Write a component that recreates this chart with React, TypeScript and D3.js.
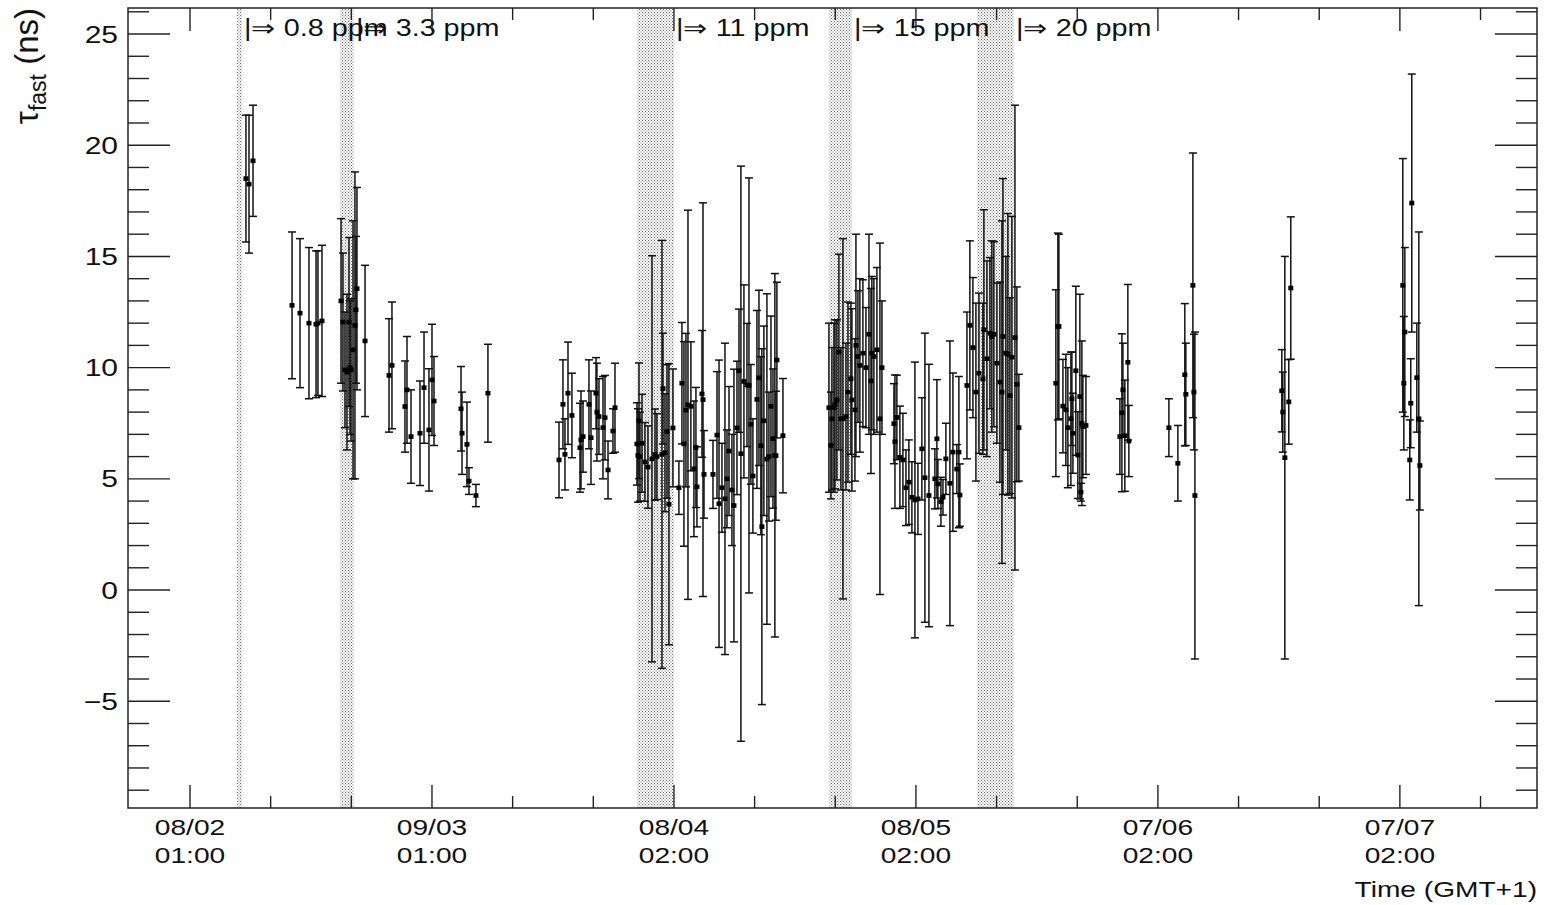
import React from 'react';
import * as d3 from 'd3';

// ---------- data ----------
// x: hours after the first labelled tick (08/02 01:00), y: tau_fast (ns), symmetric error (ns)
const hours = [
  5.55, 5.85, 6.25,
  10.12, 10.91, 11.8, 12.5, 12.69, 13.09,
  14.98, 15.17, 15.37, 15.57, 15.77, 15.87, 15.97, 16.17, 16.36, 16.46, 16.56, 17.36,
  19.74, 20.03,
  21.32, 21.52, 21.92, 22.81, 23.21, 23.7, 24.0, 24.2,
  26.88, 26.98, 27.47, 27.67, 28.36,
  29.55,
  36.6, 36.99, 37.19, 37.49, 37.88, 38.68, 38.78, 38.98, 39.57, 39.77, 40.27, 40.36, 40.56, 40.96, 41.16, 41.46, 41.95, 42.15,
  44.33, 44.43, 44.53, 44.63, 44.83, 45.12, 45.42, 45.82, 46.12, 46.31, 46.81, 46.91, 47.11, 47.31, 47.5, 47.9,
  48.49, 48.79, 48.99, 49.19, 49.39, 49.68, 49.98, 50.18, 50.28, 50.78, 50.88, 50.98, 51.87, 52.27, 52.47, 52.76,
  53.06, 53.26, 53.46, 53.75, 53.95, 54.25, 54.45, 54.64, 54.94, 55.24, 55.44, 55.63, 55.83, 56.23, 56.43, 56.62,
  56.72, 56.92, 57.22, 57.42, 57.62, 57.82, 58.01, 58.11, 58.21, 58.81,
  63.37, 63.57, 63.67, 63.87, 63.97, 64.16, 64.36, 64.56, 64.76, 65.06, 65.26, 65.55, 65.65, 65.95, 66.05, 66.25,
  66.44, 66.74, 67.04, 67.34, 67.54, 67.63, 67.83, 68.13, 68.43, 68.63,
  69.82, 69.92, 70.11, 70.41, 70.71, 71.01, 71.3, 71.6, 71.9, 72.2, 72.59, 72.89, 73.29, 73.88, 74.08, 74.18,
  74.48, 74.68, 74.97, 75.37, 75.67, 76.06, 76.26, 76.36,
  77.06, 77.35, 77.65, 77.95, 78.25, 78.64, 78.74, 79.04, 79.34, 79.53, 79.73, 80.03, 80.33, 80.53, 80.63, 80.92,
  81.12, 81.32, 81.52, 81.82, 82.01, 82.21,
  85.88, 86.08, 86.18, 86.58, 86.87, 87.07, 87.37, 87.47, 87.57, 87.86, 88.06, 88.26, 88.36, 88.46, 88.56, 88.86,
  92.23, 92.43, 92.53, 92.72, 93.02, 93.12,
  97.09, 97.98, 98.67, 98.77, 99.47, 99.57, 99.67,
  108.29, 108.39, 108.59, 108.98, 109.18,
  120.29, 120.39, 120.49, 120.98, 121.08, 121.18, 121.68, 121.88, 121.98,
];
const tau = [
  18.5, 18.25, 19.3,
  12.8, 12.45, 12.0, 11.95, 12.0, 12.1,
  13.0, 12.05, 9.9, 9.8, 12.05, 10.0, 9.9, 10.8, 11.9, 12.6, 13.55, 11.2,
  9.65, 10.1,
  8.25, 9.0, 6.9, 7.05, 9.1, 7.2, 9.45, 8.5,
  8.15, 7.05, 6.55, 4.9, 4.25,
  8.85,
  5.85, 8.35, 6.1, 8.85, 7.85, 6.4, 6.75, 6.9, 8.35, 6.85, 8.85, 8.0, 7.8, 7.3, 7.75, 5.4, 7.15, 8.2,
  6.57, 6.05, 7.61, 6.0, 6.6, 5.76, 5.53, 5.9, 6.09, 6.0, 6.1, 9.06, 6.17, 7.13, 3.86, 7.29,
  4.6, 9.3, 6.57, 8.09, 8.33, 8.26, 5.45, 6.41, 4.64, 8.82, 8.56, 5.2, 5.2, 6.97, 3.88, 4.6,
  4.1, 5.0, 6.25, 4.5, 3.8, 7.29, 9.86, 6.13, 9.38, 9.22, 9.2, 7.45, 5.13, 8.57, 9.54, 6.49,
  2.85, 7.61, 5.89, 6.0, 8.26, 6.81, 6.06, 6.04, 10.34, 6.94,
  8.2, 6.5, 7.7, 8.2, 8.35, 8.55, 10.7, 7.7, 7.7, 7.8, 8.9, 9.5, 8.55, 8.1, 11.0, 10.5,
  10.1, 10.65, 10.0, 11.5, 9.4, 10.65, 10.5, 10.8, 7.7, 10.0,
  7.48, 6.67, 7.76, 5.97, 5.85, 4.6, 4.85, 4.17, 4.05, 4.1, 6.35, 5.05, 4.25, 5.0, 6.8, 4.77,
  3.97, 4.17, 5.9, 4.8, 6.2, 5.44, 6.2, 4.27,
  9.2, 11.9, 10.9, 8.9, 9.75, 9.5, 11.7, 10.4, 11.55, 11.4, 11.5, 10.2, 9.35, 8.9, 11.4, 10.65,
  10.6, 8.74, 10.47, 11.35, 9.25, 7.3,
  9.3, 11.85, 11.85, 8.27, 8.1, 7.3, 7.7, 8.6, 7.05, 9.86, 6.07, 8.7, 4.4, 7.5, 7.35, 7.4,
  6.9, 7.97, 9.0, 6.94, 10.24, 6.7,
  7.3, 5.7, 9.68, 8.8, 13.7, 8.9, 4.25,
  8.96, 8.0, 5.95, 8.46, 13.58,
  13.7, 9.3, 11.6, 5.85, 8.4, 17.4, 9.55, 7.7, 5.6,
];
const tauErr = [
  2.85, 3.1, 2.5,
  3.3, 3.35, 3.4, 3.3, 3.25, 3.4,
  3.7, 3.1, 2.6, 3.5, 3.8, 3.0, 3.2, 5.8, 6.9, 3.3, 4.55, 3.4,
  2.55, 2.85,
  2.05, 2.4, 2.1, 2.35, 2.5, 2.75, 2.5, 2.0,
  1.9, 1.85, 1.9, 0.6, 0.5,
  2.2,
  1.7, 2.0, 1.6, 2.3, 1.9, 2.0, 2.2, 1.6, 2.0, 2.1, 1.6, 2.2, 1.7, 2.3, 1.9, 1.3, 1.0, 2.0,
  1.85, 2.1, 2.6, 2.0, 2.2, 1.77, 1.85, 9.13, 2.05, 1.93, 9.62, 2.49, 2.65, 3.0, 6.32, 2.65,
  1.2, 2.73, 4.6, 3.45, 8.75, 2.9, 3.05, 2.7, 1.8, 2.85, 8.85, 1.97, 1.53, 2.85, 6.46, 2.0,
  7.0, 2.2, 2.9, 2.5, 6.13, 3.0, 2.77, 12.93, 4.34, 2.77, 9.33, 2.69, 2.57, 4.0, 3.94, 4.0,
  8.0, 4.26, 7.43, 2.9, 4.06, 3.13, 8.17, 2.9, 3.5, 2.57,
  3.8, 2.4, 3.2, 3.8, 3.8, 3.6, 4.4, 3.2, 8.1, 3.3, 4.05, 3.4, 4.1, 3.2, 5.0, 2.96,
  3.9, 3.3, 2.7, 4.5, 4.16, 3.45, 3.5, 3.7, 7.9, 3.0,
  1.8, 3.0, 1.9, 2.3, 2.1, 1.7, 1.9, 1.6, 6.2, 1.6, 2.3, 6.5, 5.9, 1.35, 2.66, 1.1,
  1.1, 0.8, 1.6, 6.4, 3.56, 1.1, 3.4, 1.4,
  3.3, 3.8, 3.15, 4.0, 3.6, 3.4, 5.4, 4.4, 3.4, 4.3, 4.16, 3.6, 4.5, 7.7, 7.1, 4.35,
  6.33, 4.4, 6.33, 10.45, 4.38, 2.4,
  4.2, 4.2, 4.15, 2.1, 2.5, 2.7, 3.0, 2.1, 1.8, 3.8, 1.95, 4.6, 0.4, 3.7, 2.3, 2.2,
  1.7, 3.55, 2.1, 2.5, 3.5, 1.6,
  1.3, 1.7, 3.2, 2.3, 5.95, 2.6, 7.35,
  1.85, 1.8, 9.05, 1.9, 3.2,
  5.7, 3.0, 3.8, 1.8, 2.0, 5.8, 2.45, 8.4, 2.0,
];

// axis ticks
const xMajorTicks = [0, 24, 48, 72, 96, 120];
const xMinorStep = 8;
const xTickDates = ['08/02', '09/03', '08/04', '08/05', '07/06', '07/07'];
const xTickTimes = ['01:00', '01:00', '02:00', '02:00', '02:00', '02:00'];
const yMajorTicks = [-5, 0, 5, 10, 15, 20, 25];

// concentration change periods (hours)
const regionStarts = [4.66, 14.88, 44.33, 63.37, 78.05];
const regionEnds = [5.16, 16.26, 48.0, 65.65, 81.72];
const ppmLabels = ['0.8', '3.3', '11', '15', '20'];

const xDomain = [-6.15, 133.6];
const yDomain = [-9.8, 26.17];

// ---------- layout ----------
const W = 1547;
const H = 905;
const L = 128, R = 1537, T = 8, B = 808;
const SX = 1.25; // horizontal text stretch of the original picture
const FONT = "'Liberation Sans', Arial, Helvetica, sans-serif";

function SText({ x, y, anchor = 'start', size = 22, children }: any) {
  return (
    <text
      transform={`translate(${x},${y}) scale(${SX},1)`}
      textAnchor={anchor}
      fontSize={size}
      fontFamily={FONT}
      fill="#111"
    >
      {children}
    </text>
  );
}

export default function App() {
  const x = d3.scaleLinear().domain(xDomain).range([L, R]);
  const y = d3.scaleLinear().domain(yDomain).range([B, T]);

  const xMinor = d3.range(xMinorStep, xDomain[1], xMinorStep).filter((v) => v % 24 !== 0);
  const yMinor = d3.range(-9, 27, 1).filter((v) => v % 5 !== 0 && v <= yDomain[1]);

  const pts = hours.map((h, i) => ({ h, v: tau[i], e: tauErr[i] }));

  return (
    <div style={{ position: 'absolute', left: 0, top: 0 }}>
      <svg width={W} height={H} style={{ display: 'block', background: '#fff' }}>
        <defs>
          <pattern id="dots" width={3} height={3} patternUnits="userSpaceOnUse">
            <rect x={0} y={0} width={1} height={1} fill="#666" />
            <rect x={1.5} y={1.5} width={1} height={1} fill="#666" />
          </pattern>
        </defs>
        <rect x={0} y={0} width={W} height={H} fill="#fff" />

        {/* shaded periods */}
        {regionStarts.map((s, i) => (
          <rect
            key={'r' + i}
            x={x(s)}
            y={T}
            width={x(regionEnds[i]) - x(s)}
            height={B - T}
            fill="url(#dots)"
          />
        ))}

        {/* error bars */}
        <g stroke="#111" strokeWidth={1.5} fill="none">
          {pts.map((p, i) => {
            const cx = x(p.h);
            const y1 = y(p.v + p.e);
            const y2 = y(p.v - p.e);
            return (
              <g key={'e' + i}>
                <line x1={cx} x2={cx} y1={y1} y2={y2} />
                <line x1={cx - 4} x2={cx + 4} y1={y1} y2={y1} />
                <line x1={cx - 4} x2={cx + 4} y1={y2} y2={y2} />
              </g>
            );
          })}
        </g>
        <g fill="#000">
          {pts.map((p, i) => (
            <rect key={'m' + i} x={x(p.h) - 2.5} y={y(p.v) - 2.3} width={5} height={4.6} />
          ))}
        </g>

        {/* ppm labels */}
        {regionEnds.map((e, i) => (
          <SText key={'p' + i} x={x(e) + 2} y={36} size={23}>
            {'|\u21D2 ' + ppmLabels[i] + ' ppm'}
          </SText>
        ))}

        {/* frame */}
        <rect x={L} y={T} width={R - L} height={B - T} fill="none" stroke="#222" strokeWidth={1.5} />

        {/* ticks */}
        <g stroke="#222" strokeWidth={1.4}>
          {xMajorTicks.map((t) => (
            <g key={'xm' + t}>
              <line x1={x(t)} x2={x(t)} y1={B} y2={B - 23} />
              <line x1={x(t)} x2={x(t)} y1={T} y2={T + 23} />
            </g>
          ))}
          {xMinor.map((t) => (
            <g key={'xn' + t}>
              <line x1={x(t)} x2={x(t)} y1={B} y2={B - 12} />
              <line x1={x(t)} x2={x(t)} y1={T} y2={T + 12} />
            </g>
          ))}
          {yMajorTicks.map((t) => (
            <g key={'ym' + t}>
              <line x1={L} x2={L + 42} y1={y(t)} y2={y(t)} />
              <line x1={R} x2={R - 42} y1={y(t)} y2={y(t)} />
            </g>
          ))}
          {yMinor.map((t) => (
            <g key={'yn' + t}>
              <line x1={L} x2={L + 21} y1={y(t)} y2={y(t)} />
              <line x1={R} x2={R - 21} y1={y(t)} y2={y(t)} />
            </g>
          ))}
        </g>

        {/* tick labels */}
        {xMajorTicks.map((t, i) => (
          <g key={'xl' + t}>
            <SText x={x(t)} y={835} anchor="middle" size={22.5}>{xTickDates[i]}</SText>
            <SText x={x(t)} y={863} anchor="middle" size={22.5}>{xTickTimes[i]}</SText>
          </g>
        ))}
        {yMajorTicks.map((t) => (
          <SText key={'yl' + t} x={118} y={y(t) + 8.5} anchor="end" size={24}>
            {t < 0 ? '\u2212' + Math.abs(t) : String(t)}
          </SText>
        ))}

        {/* axis titles */}
        <SText x={R} y={897} anchor="end" size={22.5}>Time (GMT+1)</SText>
        <text
          transform="translate(38,8) rotate(-90)"
          textAnchor="end"
          fontSize={33}
          fontFamily={FONT}
          fill="#111"
        >
          <tspan>{'\u03C4'}</tspan>
          <tspan fontSize={23} dy={8}>fast</tspan>
          <tspan dy={-8}>{' (ns)'}</tspan>
        </text>
      </svg>
    </div>
  );
}
